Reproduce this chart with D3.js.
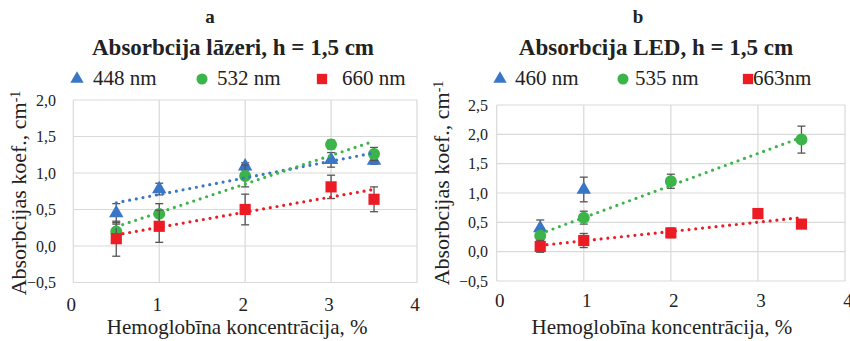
<!DOCTYPE html>
<html>
<head>
<meta charset="utf-8">
<script src="https://cdn.jsdelivr.net/npm/d3@7/dist/d3.min.js"></script>
<style>
  body { margin: 0; background: #fff; }
</style>
</head>
<body>
<svg id="chart" width="850" height="341"></svg>
<script>
// ---- data ----
var xTicks = [0, 1, 2, 3, 4];

// panel a : lasers
var xA = [0.5, 1, 2, 3, 3.5];
var a448 = [0.45, 0.78, 1.09, 1.18, 1.17];
var a448Err = [0.13, 0.08, 0.05, 0.10, 0.05];
var a532 = [0.20, 0.44, 0.96, 1.39, 1.26];
var a532Err = [0.10, 0.14, 0.15, 0.06, 0.09];
var a660 = [0.10, 0.27, 0.50, 0.81, 0.64];
var a660Err = [0.24, 0.22, 0.21, 0.16, 0.17];
var yTicksA = [-0.5, 0, 0.5, 1, 1.5, 2];

// panel b : LED
var xB460 = [0.5, 1];
var b460 = [0.40, 1.06];
var b460Err = [0.14, 0.21];
var xB535 = [0.5, 1, 2, 3.5];
var b535 = [0.27, 0.58, 1.20, 1.91];
var b535Err = [0.05, 0.11, 0.12, 0.23];
var xB663 = [0.5, 1, 2, 3, 3.5];
var b663 = [0.09, 0.19, 0.32, 0.65, 0.47];
var b663Err = [0.10, 0.12, 0.08, 0, 0.05];
var yTicksB = [-0.5, 0, 0.5, 1, 1.5, 2, 2.5];

var blue = '#3a76c6', green = '#3cb44a', red = '#ec1c24';

var svg = d3.select('#chart');

function comma(v) {
    return d3.format('.1f')(v).replace('.', ',').replace('-', '\u2013');
}

// least squares line, like the Excel linear trendline
function fit(xs, ys) {
    var mx = d3.mean(xs), my = d3.mean(ys), sxy = 0, sxx = 0;
    xs.forEach(function(x, i) {
        sxy += (x - mx) * (ys[i] - my);
        sxx += (x - mx) * (x - mx);
    });
    var k = sxy / sxx;
    return function(x) { return my + k * (x - mx); };
}

function txt(sel) {
    return sel.attr('font-family', 'Liberation Serif').attr('fill', '#222');
}

function drawPanel(cfg) {
    var g = svg.append('g');
    var x = d3.scaleLinear().domain([0, 4]).range(cfg.xr);
    var y = d3.scaleLinear().domain(cfg.yd).range(cfg.yr);

    // grid
    g.selectAll('line.gy').data(cfg.yTicks).enter().append('line')
        .attr('x1', cfg.xr[0]).attr('x2', cfg.xr[1])
        .attr('y1', function(d) { return y(d); }).attr('y2', function(d) { return y(d); })
        .attr('stroke', '#d9d9d9').attr('stroke-width', 1.2);
    g.selectAll('line.gx').data(xTicks).enter().append('line')
        .attr('y1', cfg.yr[0]).attr('y2', cfg.yr[1])
        .attr('x1', function(d) { return x(d); }).attr('x2', function(d) { return x(d); })
        .attr('stroke', '#d9d9d9').attr('stroke-width', 1.2);

    // tick labels
    txt(g.selectAll('text.ty').data(cfg.yTicks).enter().append('text'))
        .attr('x', cfg.yLabX).attr('y', function(d) { return y(d); })
        .attr('dy', '0.36em').attr('text-anchor', 'end')
        .attr('font-size', 16).text(comma);
    txt(g.selectAll('text.tx').data(xTicks).enter().append('text'))
        .attr('x', function(d) { return x(d) + cfg.xLabDx; }).attr('y', cfg.xLabY)
        .attr('text-anchor', 'middle')
        .attr('font-size', 19).text(function(d) { return d; });

    // axis titles
    txt(g.append('text'))
        .attr('x', d3.mean(cfg.xr) + cfg.xTitleDx).attr('y', 334)
        .attr('text-anchor', 'middle').attr('font-size', 21)
        .text('Hemoglobīna koncentrācija, %');
    var yt = txt(g.append('text'))
        .attr('transform', 'translate(' + cfg.yTitleX + ',' + cfg.yTitleY + ') rotate(-90)')
        .attr('text-anchor', 'middle').attr('font-size', 22);
    yt.append('tspan').text('Absorbcijas koef., cm');
    yt.append('tspan').attr('dy', '-0.45em').attr('font-size', 14).text('-1');

    // titles
    txt(g.append('text')).attr('x', cfg.letterX).attr('y', 23)
        .attr('text-anchor', 'middle').attr('font-size', 19).attr('font-weight', 'bold')
        .text(cfg.letter);
    txt(g.append('text')).attr('x', cfg.titleX).attr('y', 55)
        .attr('text-anchor', 'middle').attr('font-size', 23).attr('font-weight', 'bold')
        .text(cfg.title);

    // series: error bars, markers, then trend lines
    cfg.series.forEach(function(s) {
        var pts = s.xs.map(function(v, i) { return { x: v, y: s.ys[i], e: s.err[i] }; });
        var eb = g.selectAll(null).data(pts.filter(function(p) { return p.e > 0; })).enter().append('g')
            .attr('stroke', '#555').attr('stroke-width', 1.3);
        eb.append('line')
            .attr('x1', function(p) { return x(p.x); }).attr('x2', function(p) { return x(p.x); })
            .attr('y1', function(p) { return y(p.y - p.e); }).attr('y2', function(p) { return y(p.y + p.e); });
        [-1, 1].forEach(function(sg) {
            eb.append('line')
                .attr('x1', function(p) { return x(p.x) - 4; }).attr('x2', function(p) { return x(p.x) + 4; })
                .attr('y1', function(p) { return y(p.y + sg * p.e); }).attr('y2', function(p) { return y(p.y + sg * p.e); });
        });
        g.selectAll(null).data(pts).enter().append('path')
            .attr('d', d3.symbol().type(s.shape).size(s.size))
            .attr('transform', function(p) { return 'translate(' + x(p.x) + ',' + y(p.y) + ')'; })
            .attr('fill', s.color);
    });
    cfg.series.forEach(function(s) {
        if (!s.trend) return;
        var f = fit(s.xs, s.ys);
        var x0 = d3.min(s.xs), x1 = d3.max(s.xs);
        g.append('line')
            .attr('x1', x(x0)).attr('y1', y(f(x0)))
            .attr('x2', x(x1)).attr('y2', y(f(x1)))
            .attr('stroke', s.color).attr('stroke-width', 3.2)
            .attr('stroke-linecap', 'round').attr('stroke-dasharray', '0 6.8');
    });

    // legend
    cfg.series.forEach(function(s, i) {
        var lx = cfg.legend[i];
        g.append('path')
            .attr('d', d3.symbol().type(s.shape).size(s.size * 0.85))
            .attr('transform', 'translate(' + lx[0] + ',79)')
            .attr('fill', s.color);
        txt(g.append('text')).attr('x', lx[1]).attr('y', 85)
            .attr('font-size', 21).text(s.name);
    });
}

drawPanel({
    letter: 'a', letterX: 210,
    title: 'Absorbcija lāzeri, h = 1,5 cm', titleX: 233,
    xr: [73.3, 417], yr: [282.5, 100], yd: [-0.5, 2], yTicks: yTicksA,
    yLabX: 56, xLabY: 311, xLabDx: -2, xTitleDx: -8, yTitleX: 26, yTitleY: 193,
    legend: [[77, 93], [202, 217], [322, 342]],
    series: [
        { name: '448 nm', xs: xA, ys: a448, err: a448Err, color: blue, shape: d3.symbolTriangle, size: 90, trend: true },
        { name: '532 nm', xs: xA, ys: a532, err: a532Err, color: green, shape: d3.symbolCircle, size: 113, trend: true },
        { name: '660 nm', xs: xA, ys: a660, err: a660Err, color: red, shape: d3.symbolSquare, size: 125, trend: true }
    ]
});

drawPanel({
    letter: 'b', letterX: 638,
    title: 'Absorbcija LED, h = 1,5 cm', titleX: 656,
    xr: [496.7, 845], yr: [281, 105], yd: [-0.5, 2.5], yTicks: yTicksB,
    yLabX: 488, xLabY: 307, xLabDx: 3, xTitleDx: -9, yTitleX: 449, yTitleY: 183,
    legend: [[500, 515], [623, 635], [748, 753]],
    series: [
        { name: '460 nm', xs: xB460, ys: b460, err: b460Err, color: blue, shape: d3.symbolTriangle, size: 90, trend: false },
        { name: '535 nm', xs: xB535, ys: b535, err: b535Err, color: green, shape: d3.symbolCircle, size: 113, trend: true },
        { name: '663nm', xs: xB663, ys: b663, err: b663Err, color: red, shape: d3.symbolSquare, size: 125, trend: true }
    ]
});
</script>
</body>
</html>
